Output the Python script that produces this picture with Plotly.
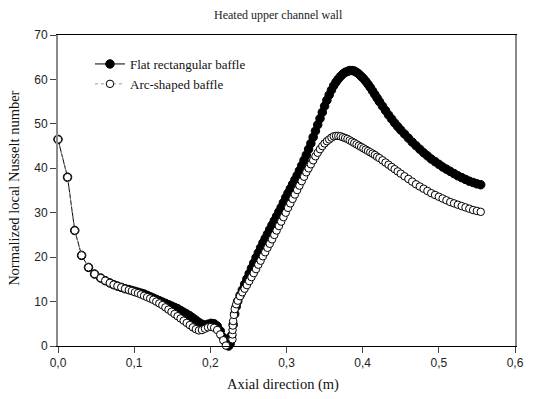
import plotly.graph_objects as go

# Axial positions (m) and normalized local Nusselt number, arc-shaped baffle
arc_x = [0.000, 0.0125, 0.022, 0.031, 0.040, 0.048, 0.056, 0.062, 0.068, 0.073,
         0.078, 0.083, 0.088, 0.093, 0.097, 0.101, 0.105, 0.109, 0.113, 0.117,
         0.121, 0.125, 0.129, 0.133, 0.137, 0.141, 0.145, 0.149, 0.153, 0.157,
         0.161, 0.165, 0.169, 0.173, 0.177, 0.181, 0.185, 0.189, 0.193, 0.197,
         0.201, 0.205, 0.209, 0.213, 0.217, 0.2205, 0.229, 0.229, 0.2292, 0.2295,
         0.230, 0.231, 0.232, 0.234, 0.236, 0.239, 0.242, 0.245, 0.248, 0.251,
         0.254, 0.257, 0.260, 0.263, 0.266, 0.269, 0.272, 0.275, 0.278, 0.281,
         0.284, 0.287, 0.290, 0.293, 0.296, 0.299, 0.302, 0.305, 0.308, 0.311,
         0.314, 0.317, 0.320, 0.323, 0.326, 0.329, 0.332, 0.335, 0.338, 0.341,
         0.344, 0.347, 0.350, 0.353, 0.356, 0.359, 0.362, 0.365, 0.368, 0.371,
         0.374, 0.377, 0.380, 0.383, 0.386, 0.389, 0.392, 0.395, 0.398, 0.401,
         0.404, 0.407, 0.410, 0.413, 0.416, 0.419, 0.422, 0.426, 0.430, 0.434,
         0.438, 0.442, 0.446, 0.450, 0.455, 0.460, 0.465, 0.470, 0.475, 0.480,
         0.485, 0.490, 0.495, 0.500, 0.505, 0.510, 0.515, 0.520, 0.525, 0.530,
         0.535, 0.540, 0.545, 0.550, 0.555]
arc_nu = [46.5, 38.0, 26.0, 20.4, 17.7, 16.2, 15.3, 14.7, 14.2, 13.8,
          13.5, 13.2, 12.9, 12.6, 12.4, 12.1, 11.9, 11.6, 11.3, 11.0,
          10.7, 10.4, 10.0, 9.6, 9.2, 8.7, 8.2, 7.7, 7.2, 6.7,
          6.2, 5.7, 5.2, 4.7, 4.2, 3.8, 3.5, 3.6, 3.9, 4.2,
          4.3, 4.1, 3.6, 2.6, 1.3, 0.1, 1.5, 2.6, 3.6, 4.6,
          5.6, 7.0, 8.3, 9.4, 10.2, 11.2, 12.1, 12.9, 13.7, 14.6,
          15.5, 16.4, 17.3, 18.3, 19.2, 20.2, 21.1, 22.1, 23.0, 24.0,
          25.0, 26.0, 27.0, 28.0, 29.0, 30.0, 31.1, 32.1, 33.1, 34.1,
          35.1, 36.1, 37.1, 38.1, 39.1, 40.0, 40.9, 41.8, 42.7, 43.5,
          44.3, 45.0, 45.6, 46.1, 46.5, 46.9, 47.2, 47.3, 47.3, 47.2,
          47.0, 46.8, 46.6, 46.3, 46.0, 45.7, 45.4, 45.1, 44.8, 44.5,
          44.2, 43.9, 43.6, 43.3, 43.0, 42.6, 42.3, 41.8, 41.3, 40.8,
          40.3, 39.8, 39.3, 38.8, 38.2, 37.6, 37.0, 36.4, 35.9, 35.4,
          34.9, 34.4, 34.0, 33.6, 33.2, 32.8, 32.4, 32.1, 31.8, 31.5,
          31.2, 30.9, 30.6, 30.4, 30.2]

# Axial positions (m) and normalized local Nusselt number, flat rectangular baffle
flat_x = [0.000, 0.0125, 0.022, 0.031, 0.040, 0.048, 0.056, 0.062, 0.068, 0.073,
          0.078, 0.083, 0.088, 0.093, 0.097, 0.101, 0.105, 0.109, 0.113, 0.117,
          0.121, 0.125, 0.129, 0.133, 0.137, 0.141, 0.145, 0.149, 0.153, 0.157,
          0.161, 0.165, 0.169, 0.173, 0.177, 0.181, 0.185, 0.189, 0.193, 0.197,
          0.201, 0.205, 0.209, 0.213, 0.217, 0.221, 0.224, 0.226, 0.228, 0.230,
          0.232, 0.234, 0.236, 0.239, 0.242, 0.245, 0.248, 0.251, 0.254, 0.257,
          0.260, 0.263, 0.266, 0.269, 0.272, 0.275, 0.278, 0.281, 0.284, 0.287,
          0.290, 0.293, 0.296, 0.299, 0.302, 0.305, 0.308, 0.311, 0.314, 0.317,
          0.320, 0.323, 0.326, 0.329, 0.332, 0.335, 0.338, 0.341, 0.344, 0.347,
          0.350, 0.353, 0.356, 0.359, 0.362, 0.365, 0.368, 0.371, 0.374, 0.377,
          0.380, 0.383, 0.386, 0.389, 0.392, 0.395, 0.398, 0.401, 0.404, 0.407,
          0.410, 0.413, 0.416, 0.419, 0.422, 0.426, 0.430, 0.434, 0.438, 0.442,
          0.446, 0.450, 0.455, 0.460, 0.465, 0.470, 0.475, 0.480, 0.485, 0.490,
          0.495, 0.500, 0.505, 0.510, 0.515, 0.520, 0.525, 0.530, 0.535, 0.540,
          0.545, 0.550, 0.555]
flat_nu = [46.5, 38.0, 26.0, 20.4, 17.7, 16.2, 15.3, 14.7, 14.2, 13.8,
           13.5, 13.2, 12.9, 12.7, 12.5, 12.3, 12.1, 11.9, 11.7, 11.4,
           11.1, 10.8, 10.5, 10.2, 9.9, 9.6, 9.3, 9.0, 8.7, 8.4,
           8.0, 7.6, 7.2, 6.8, 6.3, 5.8, 5.3, 4.9, 4.7, 4.9,
           5.1, 5.0, 4.5, 3.4, 1.9, 0.5, 0.0, 0.5, 2.4, 4.8,
           7.2, 8.9, 10.1, 11.4, 12.6, 13.9, 15.1, 16.3, 17.5, 18.7,
           19.9, 21.0, 22.1, 23.2, 24.2, 25.2, 26.2, 27.2, 28.2, 29.2,
           30.2, 31.2, 32.3, 33.4, 34.4, 35.4, 36.4, 37.4, 38.4, 39.5,
           40.6, 41.8, 43.0, 44.3, 45.6, 47.0, 48.4, 49.8, 51.2, 52.6,
           54.0, 55.3, 56.5, 57.6, 58.6, 59.4, 60.1, 60.7, 61.2, 61.6,
           61.8, 62.0, 62.0, 61.9, 61.6, 61.2, 60.7, 60.2, 59.6, 58.9,
           58.2, 57.4, 56.6, 55.8, 55.0, 54.0, 53.0, 52.0, 51.1, 50.2,
           49.4, 48.6, 47.7, 46.8, 45.9, 45.1, 44.3, 43.5, 42.8, 42.1,
           41.5, 40.9, 40.3, 39.8, 39.3, 38.8, 38.3, 37.9, 37.5, 37.1,
           36.8, 36.5, 36.3]

x_ticks = [0.0, 0.1, 0.2, 0.3, 0.4, 0.5, 0.6]
x_tick_text = ["0,0", "0,1", "0,2", "0,3", "0,4", "0,5", "0,6"]
y_ticks = [0, 10, 20, 30, 40, 50, 60, 70]

SERIF = "Liberation Serif, Times New Roman, serif"
SANS = "Liberation Sans, Arial, sans-serif"

fig = go.Figure()

fig.add_trace(go.Scatter(
    x=flat_x, y=flat_nu, name="Flat rectangular baffle",
    mode="lines+markers", cliponaxis=False,
    line=dict(color="black", width=1),
    marker=dict(symbol="circle", size=8.5, color="black",
                line=dict(color="black", width=1)),
))

fig.add_trace(go.Scatter(
    x=arc_x, y=arc_nu, name="Arc-shaped baffle",
    mode="lines+markers", cliponaxis=False,
    line=dict(color="#999999", width=1, dash="dot"),
    marker=dict(symbol="circle", size=7.5, color="white",
                line=dict(color="black", width=1)),
))

# plot frame spans 466 x 311 px
fig.update_layout(
    width=533, height=399,
    margin=dict(l=58, r=9, t=35, b=53),
    paper_bgcolor="white", plot_bgcolor="white",
    showlegend=True,
    legend=dict(x=0.07, y=0.955, xanchor="left", yanchor="top",
                bgcolor="rgba(0,0,0,0)", borderwidth=0,
                font=dict(family=SERIF, size=13, color="#111111"),
                tracegroupgap=0, itemsizing="trace"),
    annotations=[
        dict(text="Heated upper channel wall",
             x=(283 - 58) / 466, y=1 + 20 / 311,
             xref="paper", yref="paper", showarrow=False,
             xanchor="center", yanchor="middle",
             font=dict(family=SERIF, size=12, color="#222222")),
        dict(text="Axial direction (m)", x=(287 - 58) / 466, y=-(384 - 346) / 311,
             xref="paper", yref="paper", showarrow=False,
             xanchor="center", yanchor="middle",
             font=dict(family=SERIF, size=14.5, color="#111111")),
        dict(text="Normalized local Nusselt number", x=-(58 - 13) / 466,
             y=(346 - 188) / 311,
             xref="paper", yref="paper", showarrow=False, textangle=-90,
             xanchor="center", yanchor="middle",
             font=dict(family=SERIF, size=14.5, color="#111111")),
    ],
)

fig.update_xaxes(
    range=[0, 0.6], tickvals=x_ticks, ticktext=x_tick_text,
    showgrid=False, zeroline=False,
    showline=True, linecolor="black", linewidth=1, mirror=True,
    ticks="outside", ticklen=6, tickcolor="#444444", tickwidth=1,
    tickfont=dict(family=SANS, size=12, color="#222222"),
)
fig.update_yaxes(
    range=[0, 70], tickvals=y_ticks,
    showgrid=False, zeroline=False,
    showline=True, linecolor="#8a8a8a", linewidth=2, mirror=True,
    ticks="outside", ticklen=6, tickcolor="#444444", tickwidth=1,
    tickfont=dict(family=SANS, size=12, color="#222222"),
)

fig.write_html("out.html")
